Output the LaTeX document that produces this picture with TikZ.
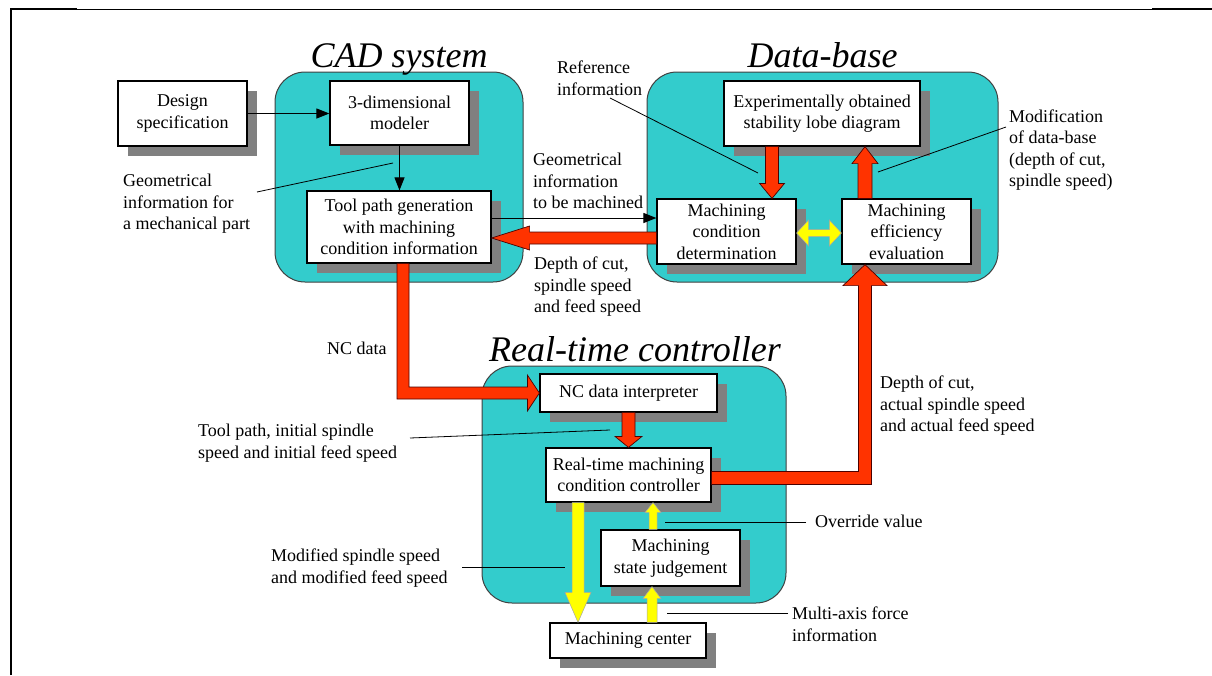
\documentclass[tikz,border=0pt]{standalone}
\usepackage{fontspec}
\setmainfont{Liberation Serif}
\usetikzlibrary{calc,shadows,arrows.meta}

\definecolor{panelcyan}{HTML}{33CCCC}
\definecolor{arrowred}{HTML}{FF3300}
\definecolor{arrowyellow}{HTML}{FFFF00}

\newcommand\diagbody{\fontsize{18}{21.5}\selectfont}
\newcommand\diagtitle{\fontsize{36}{40}\selectfont\itshape}

\tikzset{
  panel/.style={draw=black!75, line width=1pt, fill=panelcyan, rounded corners=30pt, inner sep=0pt},
  stage/.style={draw=black, line width=1.2pt, fill=white, inner sep=0pt, align=center, font=\diagbody,
    drop shadow={shadow xshift=10pt, shadow yshift=-10pt, opacity=1, fill=black!50}},
  note/.style={align=left, anchor=west, inner sep=0pt, font=\diagbody},
  heading/.style={anchor=base, inner sep=0pt, font=\diagtitle},
  leader/.style={draw=black, line width=0.8pt},
  thinflow/.style={draw=black, line width=1pt, -{Triangle[length=13pt,width=10pt]}},
  redflow/.style={fill=arrowred, draw=black!70!red, line width=0.7pt, line join=miter},
  yellowflow/.style={fill=arrowyellow, draw=black!35, line width=0.5pt, line join=miter},
}

% straight block arrow: tail, tip, half shaft, half head, head length, style
\newcommand\blockarrow[6]{%
  \coordinate (ba-base) at ($(#2)!#5!(#1)$);
  \draw[#6] ($(#1)!#3!90:(#2)$) -- ($(ba-base)!#3!90:(#2)$) -- ($(ba-base)!#4!90:(#2)$) -- (#2)
    -- ($(ba-base)!#4!-90:(#2)$) -- ($(ba-base)!#3!-90:(#2)$) -- ($(#1)!#3!-90:(#2)$) -- cycle;
}
% block arrow with a head at both ends
\newcommand\twowayarrow[6]{%
  \coordinate (tw-a) at ($(#1)!#5!(#2)$);
  \coordinate (tw-b) at ($(#2)!#5!(#1)$);
  \draw[#6] (#1) -- ($(tw-a)!#4!90:(#2)$) -- ($(tw-a)!#3!90:(#2)$) -- ($(tw-b)!#3!90:(#2)$)
    -- ($(tw-b)!#4!90:(#2)$) -- (#2) -- ($(tw-b)!#4!-90:(#2)$) -- ($(tw-b)!#3!-90:(#2)$)
    -- ($(tw-a)!#3!-90:(#2)$) -- ($(tw-a)!#4!-90:(#2)$) -- cycle;
}

\begin{document}
\begin{tikzpicture}[x=1pt,y=-1pt]
\useasboundingbox (0,0) rectangle (1212,675);

% page frame
\draw[line width=2pt] (11,675) -- (11,9) -- (77,9);
\draw[line width=1pt] (77,9) -- (1152,9);
\draw[line width=2.4pt] (1152,9) -- (1212,9);

% subsystem panels
\node[panel, minimum width=248pt, minimum height=210pt] (cadpanel) at (399,177) {};
\node[panel, minimum width=351pt, minimum height=210pt] (dbpanel) at (822.5,177) {};
\node[panel, minimum width=304pt, minimum height=237pt] (rtpanel) at (634,484.5) {};

\node[heading] (cadtitle) at (399,67) {CAD system};
\node[heading] (dbtitle) at (822.5,67) {Data-base};
\node[heading] (rttitle) at (635,361) {Real-time controller};

% functional blocks
\node[stage, minimum width=129pt, minimum height=65pt] (design) at (182.5,113.5) {Design\\specification};
\node[stage, minimum width=139pt, minimum height=64pt] (modeler) at (399.5,113) {3-dimensional\\modeler};
\node[stage, minimum width=184pt, minimum height=72pt] (toolpath) at (399,227) {Tool path generation\\with machining\\condition information};
\node[stage, minimum width=196pt, minimum height=65pt] (lobe) at (822,113.5) {Experimentally obtained\\stability lobe diagram};
\node[stage, minimum width=139pt, minimum height=65pt] (mcd) at (726.5,231.5) {Machining\\condition\\determination};
\node[stage, minimum width=129pt, minimum height=65pt] (mee) at (906.5,231.5) {Machining\\efficiency\\evaluation};
\node[stage, minimum width=177pt, minimum height=38pt] (nci) at (628.5,393) {NC data interpreter};
\node[stage, minimum width=165pt, minimum height=54pt] (rtc) at (628.5,475) {Real-time machining\\condition controller};
\node[stage, minimum width=139pt, minimum height=56pt] (msj) at (670.5,558) {Machining\\state judgement};
\node[stage, minimum width=156pt, minimum height=35pt] (mc) at (628,640.5) {Machining center};

% annotations
\node[note] (lgeom) at (123,204) {Geometrical\\information for\\a mechanical part};
\node[note] (lref) at (557,78) {Reference\\information};
\node[note] (lgeo2) at (533,181) {Geometrical\\information\\to be machined};
\node[note] (ldepth) at (534,287) {Depth of cut,\\spindle speed\\and feed speed};
\node[note] (lmod) at (1009,150) {Modification\\of data-base\\(depth of cut,\\spindle speed)};
\node[note] (lnc) at (327,348) {NC data};
\node[note] (lactual) at (880,406) {Depth of cut,\\actual spindle speed\\and actual feed speed};
\node[note] (linit) at (198,443) {Tool path, initial spindle\\speed and initial feed speed};
\node[note] (lover) at (815,521) {Override value};
\node[note] (lmodsp) at (271,568) {Modified spindle speed\\and modified feed speed};
\node[note] (lforce) at (792,624) {Multi-axis force\\information};

% leader lines
\coordinate (q1) at (257,192);   \coordinate (q2) at (393,163);
\coordinate (q3) at (610,98);    \coordinate (q4) at (758,173);
\coordinate (q5) at (1006,127);  \coordinate (q6) at (878,172);
\coordinate (q7) at (410,438);   \coordinate (q8) at (610,430);
\coordinate (q9) at (806,522);   \coordinate (q10) at (665,522);
\coordinate (q11) at (462,567);  \coordinate (q12) at (565,567);
\coordinate (q13) at (788,613);  \coordinate (q14) at (667,613);
\draw[leader] (q1) -- (q2);
\draw[leader] (q3) -- (q4);
\draw[leader] (q5) -- (q6);
\draw[leader] (q7) -- (q8);
\draw[leader] (q9) -- (q10);
\draw[leader] (q11) -- (q12);
\draw[leader] (q13) -- (q14);

% thin data flows
\draw[thinflow] (design.east) -- (design.east -| modeler.west);
\draw[thinflow] (modeler.south) -- (modeler.south |- toolpath.north);
\coordinate (g1) at ($(toolpath.east)+(0,-9)$);
\draw[thinflow] (g1) -- (g1 -| mcd.west);

% red information flows
\coordinate (a1) at ($(lobe.south)+(-50,0)$);
\coordinate (a2) at (a1 |- mcd.north);
\blockarrow{a1}{a2}{6.5pt}{12.5pt}{15pt}{redflow}

\coordinate (b1) at ($(mee.north)+(-41.5,0)$);
\coordinate (b2) at (b1 |- lobe.south);
\blockarrow{b1}{b2}{7pt}{13pt}{17pt}{redflow}

\coordinate (c1) at ($(mcd.west)+(0,6.5)$);
\coordinate (c2) at (c1 -| toolpath.east);
\blockarrow{c1}{c2}{6pt}{12pt}{38pt}{redflow}

\blockarrow{nci.south}{rtc.north}{6.5pt}{13.5pt}{11pt}{redflow}

% NC data: tool path generation -> interpreter
\coordinate (t0) at ($(toolpath.south)+(4,0)$);
\coordinate (t1) at (t0 |- nci.west);
\coordinate (t2) at (nci.west);
\draw[redflow] ($(t0)+(-6,0)$) -- ($(t1)+(-6,6)$) -- ($(t2)+(-12,6)$) -- ($(t2)+(-12,18)$) -- (t2)
  -- ($(t2)+(-12,-18)$) -- ($(t2)+(-12,-6)$) -- ($(t1)+(6,-6)$) -- ($(t0)+(6,0)$) -- cycle;

% actual cutting data: controller -> efficiency evaluation
\coordinate (r0) at ($(rtc.east)+(0,3)$);
\coordinate (r2) at ($(mee.south)+(-41.5,0)$);
\coordinate (r1) at (r2 |- r0);
\draw[redflow] ($(r0)+(0,-6.5)$) -- ($(r1)+(-6.5,-6.5)$) -- ($(r2)+(-6.5,21)$) -- ($(r2)+(-22,21)$) -- (r2)
  -- ($(r2)+(22,21)$) -- ($(r2)+(6.5,21)$) -- ($(r1)+(6.5,6.5)$) -- ($(r0)+(0,6.5)$) -- cycle;

% yellow control flows
\coordinate (y1) at ($(mcd.east)+(0,1.5)$);
\coordinate (y2) at (y1 -| mee.west);
\twowayarrow{y1}{y2}{3.5pt}{13pt}{12pt}{yellowflow}

\coordinate (y3) at ($(rtc.south)+(-50.5,0)$);
\coordinate (y4) at (y3 |- mc.north);
\blockarrow{y3}{y4}{6pt}{13pt}{30pt}{yellowflow}

\coordinate (y5) at ($(msj.north)+(-17.5,0)$);
\coordinate (y6) at (y5 |- rtc.south);
\blockarrow{y5}{y6}{4pt}{8pt}{10pt}{yellowflow}

\coordinate (y7) at ($(mc.north)+(24,0)$);
\coordinate (y8) at (y7 |- msj.south);
\blockarrow{y7}{y8}{5pt}{9pt}{12pt}{yellowflow}
\end{tikzpicture}
\end{document}
